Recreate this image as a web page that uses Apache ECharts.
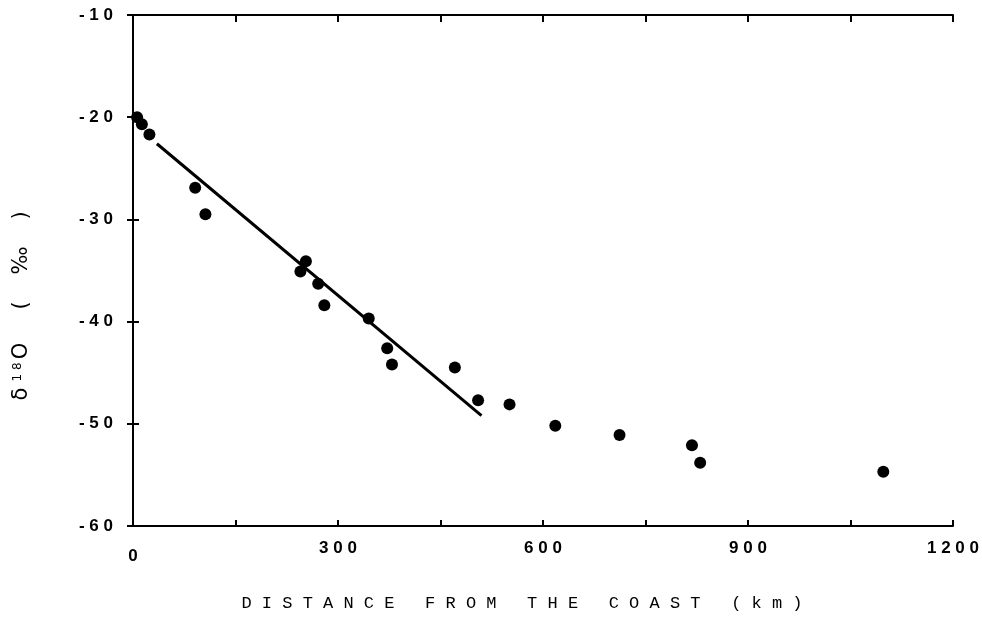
<!DOCTYPE html>
<html>
<head>
<meta charset="utf-8">
<script src="https://cdn.jsdelivr.net/npm/echarts@6/dist/echarts.min.js"></script>
<style>html,body{margin:0;padding:0;background:#fff;}#c{width:982px;height:623px;}</style>
</head>
<body>
<div id="c"></div>
<script>
var distance = [6, 13, 24, 91, 106, 245, 253, 271, 280, 345, 372, 379, 471, 505, 551, 618, 712, 818, 830, 1098];
var d18O = [-20.0, -20.7, -21.7, -26.9, -29.5, -35.1, -34.1, -36.3, -38.4, -39.7, -42.6, -44.2, -44.5, -47.7, -48.1, -50.2, -51.1, -52.1, -53.8, -54.7];
var fitX = [35, 510];
var fitY = [-22.6, -49.2];
var xLabels = [0, 300, 600, 900, 1200];
var yLabels = [-60, -50, -40, -30, -20, -10];
var xTitle = 'DISTANCE FROM THE COAST (km)';

function spaced(s){ return String(s).split('').join(' '); }

var chart = echarts.init(document.getElementById('c'));
var labelFont = {color:'#000', fontFamily:'Liberation Sans', fontWeight:'bold', fontSize:17};
chart.setOption({
  animation:false,
  backgroundColor:'#fff',
  grid:{left:133, right:29, top:15, bottom:97},
  xAxis:[{
    type:'value', min:0, max:1200, interval:150, position:'bottom',
    axisLine:{show:true, lineStyle:{color:'#000', width:2}},
    axisTick:{show:true, inside:true, length:6, lineStyle:{color:'#000', width:2}},
    splitLine:{show:false},
    axisLabel:Object.assign({margin:14,
      formatter:function(v){
        if (xLabels.indexOf(v) < 0) return '';
        return v === 0 ? '{low|0}' : spaced(v);
      },
      rich:{low:{fontFamily:'Liberation Sans', fontWeight:'bold', fontSize:17, color:'#000', padding:[8,0,0,0]}}
    }, labelFont)
  },{
    type:'value', min:0, max:1200, interval:150, position:'top',
    axisLine:{show:true, lineStyle:{color:'#000', width:2}},
    axisTick:{show:true, inside:true, length:7, lineStyle:{color:'#000', width:2}},
    splitLine:{show:false}, axisLabel:{show:false}
  }],
  yAxis:[{
    type:'value', min:-60, max:-10, interval:10, position:'left',
    axisLine:{show:true, lineStyle:{color:'#000', width:2}},
    axisTick:{show:true, inside:true, length:6, lineStyle:{color:'#000', width:2}},
    splitLine:{show:false},
    axisLabel:Object.assign({margin:20, formatter:function(v){ return yLabels.indexOf(v) >= 0 ? spaced(v) : ''; }}, labelFont)
  },{
    type:'value', min:-60, max:-10, interval:10, position:'right',
    axisLine:{show:true, lineStyle:{color:'#000', width:2}},
    axisTick:{show:true, inside:true, length:6, lineStyle:{color:'#000', width:2}},
    splitLine:{show:false}, axisLabel:{show:false}
  }],
  graphic:[{
    type:'text', x:522, y:603, z:10,
    style:{text: spaced(xTitle), fill:'#000', font:'17px "Liberation Mono"', align:'center', verticalAlign:'middle'}
  },{
    type:'text', x:22, y:306, rotation:Math.PI/2, z:10,
    style:{
      text:'{a|δ} {s|1 8}{a|O     (    ‰    )}',
      align:'center', verticalAlign:'middle',
      rich:{
        a:{fontSize:21, fontFamily:'DejaVu Sans', fill:'#000', fontWeight:'normal'},
        s:{fontSize:12, fontFamily:'DejaVu Sans', fill:'#000', verticalAlign:'top', padding:[0,3,9,3]}
      }
    }
  }],
  series:[{
    type:'line', xAxisIndex:0, yAxisIndex:0,
    data: fitX.map(function(x,i){ return [x, fitY[i]]; }),
    symbol:'none', lineStyle:{color:'#000', width:3}, z:2
  },{
    type:'scatter', xAxisIndex:0, yAxisIndex:0,
    data: distance.map(function(x,i){ return [x, d18O[i]]; }),
    symbol:'circle', symbolSize:12, itemStyle:{color:'#000', opacity:1}, z:3
  }]
});
</script>
</body>
</html>
